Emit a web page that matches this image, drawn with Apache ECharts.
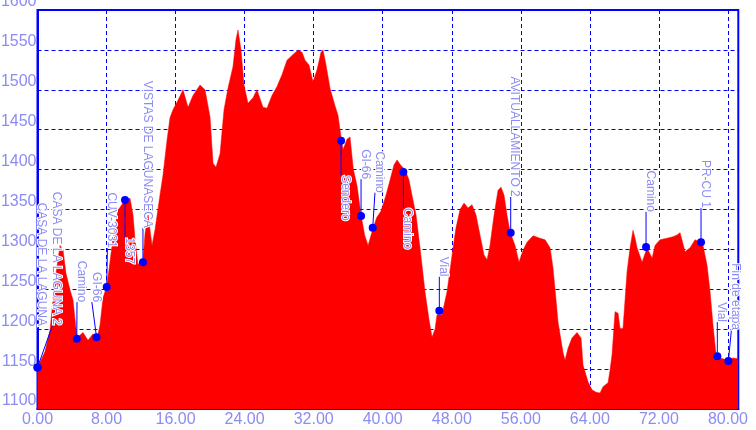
<!DOCTYPE html>
<html><head><meta charset="utf-8">
<script src="https://cdn.jsdelivr.net/npm/echarts@6/dist/echarts.min.js"></script>
<style>html,body{margin:0;padding:0;background:#fff}#c{width:756px;height:430px}</style>
</head><body><div id="c"></div>
<script>
// Elevation profile (distance in km, elevation in m)
const distKm = [0,0.87,1.45,2.03,2.61,2.95,3.30,3.77,4.11,4.35,4.58,5.27,5.85,6.43,6.89,7.24,7.59,8.05,8.75,9.33,10.14,10.72,11.07,11.30,11.65,11.88,12.22,12.46,12.81,13.27,13.62,14.19,14.54,15.01,15.35,15.70,16.28,16.86,17.44,18.02,18.83,19.41,19.99,20.34,20.68,21.15,21.61,22.07,22.65,23.00,23.23,23.58,23.93,24.39,24.97,25.43,26.13,26.59,27.17,27.75,28.33,28.91,29.49,30.19,30.65,31.00,31.46,31.92,32.39,32.85,33.08,33.43,33.89,34.47,34.82,35.05,35.40,35.86,36.21,36.60,37.02,37.49,37.90,38.30,38.84,39.30,39.80,40.38,40.85,41.31,41.66,42.12,42.58,43.05,43.39,43.86,44.32,44.90,45.36,45.71,46.06,46.29,46.87,47.45,47.80,48.15,48.49,48.96,49.42,49.88,50.35,50.81,51.27,51.74,52.09,52.43,52.90,53.36,53.71,54.06,54.40,54.75,55.33,55.79,56.26,56.72,57.42,58.23,58.81,59.39,59.73,60.08,60.31,60.66,60.89,61.12,61.47,61.93,62.51,62.98,63.21,63.79,64.25,64.72,65.18,65.53,66.11,66.34,66.57,66.92,67.27,67.50,67.84,68.08,68.31,68.66,69.00,69.24,69.47,70.05,70.63,71.21,71.55,72.13,72.94,73.64,74.10,74.45,75.03,75.61,76.19,76.77,77.11,77.58,77.93,78.27,78.62,79.08,80.01,80.59,81.17];
const elevation = [1152,1172,1199,1262,1305,1300,1270,1249,1237,1212,1189,1196,1186,1194,1188,1205,1239,1255,1314,1349,1362,1364,1343,1312,1280,1285,1284,1320,1343,1305,1325,1368,1393,1437,1465,1475,1487,1500,1478,1493,1506,1500,1466,1408,1403,1420,1475,1502,1529,1563,1575,1550,1506,1483,1490,1500,1478,1477,1493,1504,1519,1537,1543,1550,1547,1537,1531,1510,1525,1547,1550,1531,1502,1480,1468,1450,1425,1438,1441,1400,1380,1343,1318,1305,1325,1340,1348,1368,1387,1406,1412,1405,1400,1387,1368,1343,1302,1247,1212,1190,1200,1218,1218,1247,1274,1302,1327,1350,1358,1352,1356,1343,1318,1293,1287,1305,1343,1374,1378,1368,1343,1322,1305,1284,1299,1309,1317,1314,1312,1302,1277,1237,1209,1186,1171,1161,1176,1189,1196,1189,1155,1134,1124,1121,1120,1128,1133,1149,1168,1222,1220,1201,1201,1237,1272,1302,1324,1314,1302,1284,1302,1289,1305,1312,1314,1316,1318,1321,1297,1302,1312,1309,1305,1280,1247,1205,1168,1164,1161,1164,1163];

// Waypoints
const wpNames = ["CASA DE LA LAGUNA","CASA DE LA LAGUNA 2","Camino","GI-66","CUV-3031","1357","VISTAS DE LAGUNASECA","Sendero","GI-66","Camino","Camino","Vial","AVITUALLAMIENTO 2","Camino","PR-CU 1","Vial","Fin de etapa"];
const wpKm = [0,0,4.55,6.84,8.02,10.14,12.22,35.17,37.49,38.84,42.39,46.56,54.83,70.51,76.88,78.77,80.05];
const wpEle = [1152,1152,1188,1190,1253,1362,1284,1436,1342,1327,1397,1223,1321,1303,1309,1166,1160];
// Where each waypoint's leader line ends and its label begins (data units)
const wpLabelKm = [0,1.74,4.58,6.30,8.10,10.14,12.22,35.17,37.49,39.10,42.39,46.56,54.83,70.51,76.88,78.77,80.40];
const wpLabelEle = [1204,1205,1234,1234,1302,1315,1327,1393,1388,1371,1352,1266,1366,1347,1352,1209,1199];

const yMin = 1100, yMax = 1600, yStep = 50;
const xMin = 0, xMax = 81.2, xStep = 8;

const chart = echarts.init(document.getElementById('c'), null, {renderer: 'canvas'});
const labelColor = '#8c8cf2';
const wpData = wpNames.map((n, i) => [wpKm[i], wpEle[i], wpLabelKm[i], wpLabelEle[i]]);

chart.setOption({
  animation: false,
  backgroundColor: '#ffffff',
  grid: {left: 37.5, right: 17.7, top: 10, bottom: 21, containLabel: false, outerBoundsMode: 'none',
    show: true, borderColor: '#0000ff', borderWidth: 2, backgroundColor: 'transparent'},
  xAxis: {
    type: 'value', min: xMin, max: xMax, interval: xStep,
    axisLine: {show: true, lineStyle: {color: '#0000ff', width: 2}},
    axisTick: {show: false},
    axisLabel: {color: labelColor, fontSize: 16, fontFamily: 'Liberation Sans', margin: 3, showMaxLabel: false, hideOverlap: false, formatter: v => v.toFixed(2)},
    splitLine: {show: true, lineStyle: {color: '#0000ff', width: 1, type: [4, 3]}}
  },
  yAxis: {
    type: 'value', min: yMin, max: yMax, interval: yStep,
    axisLine: {show: true, lineStyle: {color: '#0000ff', width: 2}},
    axisTick: {show: false},
    axisLabel: {color: labelColor, fontSize: 16, fontFamily: 'Liberation Sans', margin: 1, verticalAlign: 'bottom', showMaxLabel: true, hideOverlap: false, formatter: v => String(v)},
    splitLine: {show: true, lineStyle: {color: '#0000ff', width: 1, type: [4, 3]}}
  },
  series: [
    {
      type: 'line', data: distKm.map((d, i) => [d, elevation[i]]),
      showSymbol: false, symbol: 'none',
      lineStyle: {width: 0.5, color: '#ff0000'},
      areaStyle: {color: '#ff0000', opacity: 1, origin: 'start'},
      z: 1
    },
    {
      type: 'custom', data: wpData, clip: false, z: 5,
      renderItem: function (params, api) {
        const i = params.dataIndex;
        const p = api.coord([api.value(0), api.value(1)]);
        const a = api.coord([api.value(2), api.value(3)]);
        const above = api.value(3) > api.value(1);
        return {
          type: 'group',
          children: [
            {type: 'line', shape: {x1: p[0], y1: p[1], x2: a[0], y2: a[1]}, style: {stroke: '#0000ff', lineWidth: 1}},
            {type: 'circle', shape: {cx: p[0], cy: p[1], r: 4}, style: {fill: '#0000ff'}},
            {type: 'text', x: a[0] + 4, y: a[1], rotation: -Math.PI / 2,
              style: {text: wpNames[i], fill: labelColor, font: '12px "Liberation Sans"', align: above ? 'right' : 'left', verticalAlign: 'middle', stroke: '#ffffff', lineWidth: 2}}
          ]
        };
      }
    }
  ]
});
</script></body></html>
